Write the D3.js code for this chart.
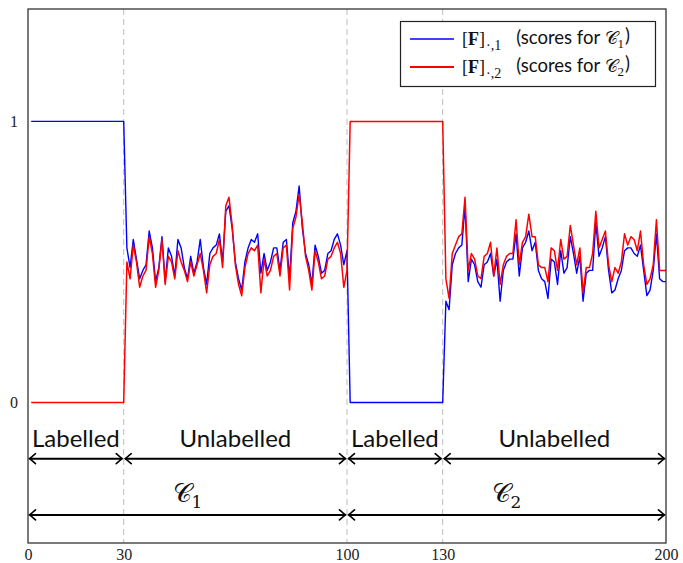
<!DOCTYPE html>
<html>
<head>
<meta charset="utf-8">
<script src="https://cdn.jsdelivr.net/npm/d3@7"></script>
<style>
  body { margin: 0; background: #fff; }
  svg { display: block; }
</style>
</head>
<body>
<svg id="chart" width="683" height="563"></svg>
<script>
// Sample indices 1..200; the first 100 samples belong to class C1, the rest to C2.
const sampleIndex = d3.range(1, 201);

// Column 1 of F: scores for C1
const scoresC1 = [
  1,1,1,1,1,1,1,1,1,1, 1,1,1,1,1,1,1,1,1,1, 1,1,1,1,1,1,1,1,1,1,
  0.55,0.48,0.58,0.51,0.44,0.47,0.49,0.61,0.55,0.43,
  0.48,0.59,0.43,0.55,0.52,0.45,0.58,0.55,0.48,0.44,
  0.52,0.46,0.50,0.58,0.48,0.42,0.53,0.55,0.56,0.60,
  0.50,0.68,0.70,0.62,0.50,0.44,0.40,0.50,0.55,0.58,
  0.57,0.60,0.46,0.53,0.47,0.50,0.55,0.55,0.47,0.57,
  0.58,0.44,0.64,0.68,0.77,0.62,0.53,0.49,0.42,0.56,
  0.52,0.46,0.47,0.53,0.54,0.58,0.60,0.56,0.49,0.54,
  0,0,0,0,0,0,0,0,0,0, 0,0,0,0,0,0,0,0,0,0, 0,0,0,0,0,0,0,0,0,0,
  0.36,0.33,0.49,0.53,0.55,0.56,0.70,0.43,0.51,0.49,
  0.43,0.41,0.49,0.50,0.53,0.45,0.51,0.36,0.47,0.50,
  0.51,0.51,0.60,0.45,0.55,0.57,0.61,0.54,0.57,0.47,
  0.44,0.43,0.37,0.51,0.50,0.42,0.54,0.46,0.48,0.59,
  0.53,0.46,0.52,0.36,0.46,0.47,0.47,0.64,0.52,0.55,
  0.59,0.47,0.39,0.40,0.44,0.47,0.54,0.55,0.55,0.53,
  0.52,0.56,0.47,0.38,0.40,0.47,0.60,0.44,0.43,0.43
];

// Column 2 of F: scores for C2
const scoresC2 = [
  0,0,0,0,0,0,0,0,0,0, 0,0,0,0,0,0,0,0,0,0, 0,0,0,0,0,0,0,0,0,0,
  0.50,0.44,0.56,0.50,0.41,0.45,0.47,0.59,0.53,0.41,
  0.47,0.58,0.42,0.52,0.50,0.44,0.54,0.50,0.47,0.43,
  0.50,0.45,0.49,0.53,0.47,0.39,0.49,0.52,0.53,0.58,
  0.48,0.70,0.73,0.63,0.49,0.42,0.38,0.48,0.53,0.55,
  0.54,0.56,0.39,0.51,0.45,0.47,0.52,0.53,0.45,0.55,
  0.56,0.40,0.62,0.66,0.74,0.64,0.52,0.47,0.40,0.54,
  0.50,0.44,0.45,0.51,0.52,0.55,0.57,0.53,0.41,0.47,
  1,1,1,1,1,1,1,1,1,1, 1,1,1,1,1,1,1,1,1,1, 1,1,1,1,1,1,1,1,1,1,
  0.44,0.37,0.53,0.56,0.59,0.60,0.73,0.47,0.53,0.51,
  0.45,0.44,0.52,0.53,0.57,0.45,0.55,0.42,0.49,0.52,
  0.53,0.53,0.65,0.49,0.57,0.59,0.67,0.59,0.59,0.49,
  0.48,0.48,0.43,0.55,0.54,0.47,0.58,0.51,0.52,0.63,
  0.56,0.49,0.55,0.39,0.48,0.48,0.53,0.68,0.55,0.58,
  0.61,0.49,0.43,0.48,0.46,0.50,0.60,0.56,0.59,0.58,
  0.54,0.61,0.49,0.42,0.44,0.49,0.65,0.47,0.47,0.47
];

const xTicks = [0, 30, 100, 130, 200];
const yTicks = [0, 1];
const splitPoints = [30, 100, 130];
const partBounds = [[0, 30], [30, 100], [100, 130], [130, 200]];
const partLabels = ["Labelled", "Unlabelled", "Labelled", "Unlabelled"];
const classBounds = [[0, 100], [100, 200]];
const classSubscripts = ["1", "2"];
const partRowY = -0.2, partTextY = -0.13;
const classRowY = -0.4, classTextY = -0.335;

const svg = d3.select("#chart");
const plotLeft = 28, plotTop = 9, plotRight = 666, plotBottom = 543;

const x = d3.scaleLinear().domain([0, 200]).range([plotLeft, plotRight]);
const y = d3.scaleLinear().domain([-0.5, 1.4]).range([plotBottom, plotTop]);

// dashed separators between labelled / unlabelled parts
svg.append("g").selectAll("line").data(splitPoints).join("line")
  .attr("x1", d => x(d)).attr("x2", d => x(d))
  .attr("y1", plotTop).attr("y2", plotBottom)
  .attr("stroke", "#bdbdbd").attr("stroke-width", 1)
  .attr("stroke-dasharray", "6,4");

// score curves
const line = (vals) => d3.line()
  .x((d, i) => x(sampleIndex[i]))
  .y(d => y(d))(vals);

svg.append("path").attr("d", line(scoresC1))
  .attr("fill", "none").attr("stroke", "#0000ff").attr("stroke-width", 1.4)
  .attr("stroke-linejoin", "round");
svg.append("path").attr("d", line(scoresC2))
  .attr("fill", "none").attr("stroke", "#ff0000").attr("stroke-width", 1.5)
  .attr("stroke-linejoin", "round");

// double-headed arrows with curved tips
function arrow(g, x0, x1, yy) {
  const a = x0 + 1.5, b = x1 - 1.5;
  g.append("line").attr("x1", a).attr("x2", b).attr("y1", yy).attr("y2", yy)
    .attr("stroke", "#000").attr("stroke-width", 2);
  const tip = (tx, dir) =>
    `M${tx - dir * 6},${yy - 5} Q${tx - dir * 1.5},${yy - 1} ${tx},${yy} Q${tx - dir * 1.5},${yy + 1} ${tx - dir * 6},${yy + 5}`;
  g.append("path").attr("d", tip(b, 1) + " " + tip(a, -1))
    .attr("fill", "none").attr("stroke", "#000").attr("stroke-width", 1.6)
    .attr("stroke-linecap", "round");
}

const ann = svg.append("g");
partBounds.forEach((p, i) => {
  arrow(ann, x(p[0]), x(p[1]), y(partRowY));
  ann.append("text")
    .attr("x", x((p[0] + p[1]) / 2)).attr("y", y(partTextY))
    .attr("dy", "0.35em").attr("text-anchor", "middle")
    .attr("font-family", "Lato, sans-serif").attr("font-size", 24)
    .attr("fill", "#111")
    .text(partLabels[i]);
});
classBounds.forEach((p, i) => {
  arrow(ann, x(p[0]), x(p[1]), y(classRowY));
  const t = ann.append("text")
    .attr("x", x((p[0] + p[1]) / 2)).attr("y", y(classTextY))
    .attr("dy", "0.35em").attr("text-anchor", "middle")
    .attr("font-family", "'DejaVu Serif', serif").attr("fill", "#111");
  t.append("tspan").attr("font-size", 26).text("𝒞");
  t.append("tspan").attr("font-size", 17).attr("dy", "0.35em").text(classSubscripts[i]);
});

// axes
const xAxis = svg.append("g").attr("transform", `translate(0,${plotBottom})`)
  .call(d3.axisBottom(x).tickValues(xTicks).tickSize(0).tickPadding(6));
xAxis.select(".domain").remove();
xAxis.selectAll("text").attr("font-family", "'Liberation Serif', serif")
  .attr("font-size", 16).attr("fill", "#222");

const yAxis = svg.append("g").attr("transform", `translate(${plotLeft},0)`)
  .call(d3.axisLeft(y).tickValues(yTicks).tickFormat(d3.format("d")).tickSize(0).tickPadding(10));
yAxis.select(".domain").remove();
yAxis.selectAll("text").attr("font-family", "'Liberation Serif', serif")
  .attr("font-size", 16).attr("fill", "#222");

// frame
svg.append("rect").attr("x", plotLeft).attr("y", plotTop)
  .attr("width", plotRight - plotLeft).attr("height", plotBottom - plotTop)
  .attr("fill", "none").attr("stroke", "#222").attr("stroke-width", 1.2);

// legend
const legend = svg.append("g");
legend.append("rect").attr("x", 400.5).attr("y", 21.5).attr("width", 255).attr("height", 65)
  .attr("fill", "#fff").attr("stroke", "#222").attr("stroke-width", 1.2);
const legendItems = [
  { color: "#0000ff", width: 1.3, col: "1" },
  { color: "#ff0000", width: 2.2, col: "2" }
];
legendItems.forEach((d, i) => {
  const yy = 39 + i * 28;
  legend.append("line").attr("x1", 410).attr("x2", 454).attr("y1", yy).attr("y2", yy)
    .attr("stroke", d.color).attr("stroke-width", d.width);
  const t = legend.append("text").attr("x", 462).attr("y", yy).attr("dy", "0.35em")
    .attr("fill", "#111").attr("font-size", 18);
  t.append("tspan").attr("font-family", "'Liberation Serif', serif").text("[");
  t.append("tspan").attr("font-family", "'Liberation Serif', serif").attr("font-weight", "bold").text("F");
  t.append("tspan").attr("font-family", "'Liberation Serif', serif").text("]");
  t.append("tspan").attr("font-family", "'Liberation Serif', serif").attr("font-size", 14)
    .attr("dy", "0.3em").attr("dx", 1).text("·,"+ d.col);
  t.append("tspan").attr("font-family", "Lato, sans-serif").attr("font-size", 18.5)
    .attr("dy", "-0.3em").attr("dx", 15).text("(scores for ");
  t.append("tspan").attr("font-family", "'DejaVu Serif', serif").attr("font-size", 18).text("𝒞");
  t.append("tspan").attr("font-family", "'Liberation Serif', serif").attr("font-size", 13)
    .attr("dy", "0.3em").text(d.col);
  t.append("tspan").attr("font-family", "Lato, sans-serif").attr("font-size", 18.5)
    .attr("dy", "-0.3em").attr("dx", 1).text(")");
});
</script>
</body>
</html>
